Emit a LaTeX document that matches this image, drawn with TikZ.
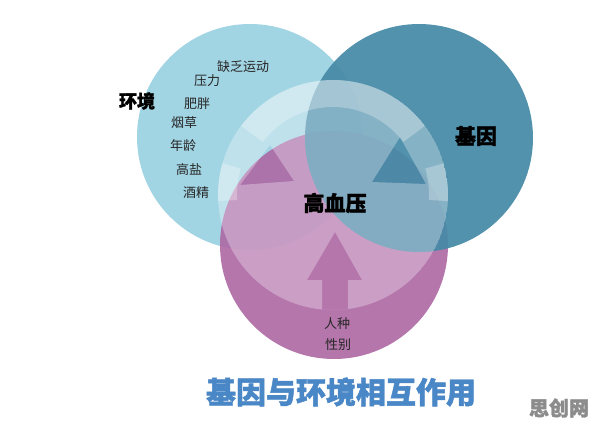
\documentclass[tikz,border=0pt]{standalone}
\usepackage{fontspec}
\newfontfamily\cjk{Noto Sans CJK SC}
\newfontfamily\cjkheavy[FakeBold=1.5]{Noto Sans CJK SC}
\definecolor{envblue}{HTML}{A2D5E4}
\definecolor{genteal}{HTML}{478AA7}
\definecolor{racepink}{HTML}{AE68A4}
\definecolor{titleblue}{HTML}{4A87C6}
\begin{document}
\begin{tikzpicture}[x=1pt,y=1pt,
        factor/.style={font=\cjk\fontsize{13}{15}\selectfont, text=black!85},
        circlename/.style={font=\cjkheavy\bfseries\fontsize{21}{24}\selectfont, text=black},
        ring/.style={white, opacity=.28}]
        \useasboundingbox (0,0) rectangle (596,429);
        \fill[white] (0,0) rectangle (596,429);

        \coordinate (E) at (250,292);
        \coordinate (G) at (419,291);
        \coordinate (R) at (334,184);
        \coordinate (C) at (333,234);

        % the three circles
        \fill[envblue] (E) circle (113);
        \fill[racepink, opacity=.9] (R) circle (114);
        \fill[genteal, opacity=.93] (G) circle (114);

        % light disc with the arrows cut out
        \begin{scope}
            \clip (C) circle (115);
            \fill[white, opacity=.3, even odd rule] (C) circle (115)
                (270,284) -- (240,244) -- (294,248) -- cycle
                (400,292) -- (372,247) -- (426,245) -- cycle
                (335,197) -- (307,149) -- (322,149) -- (322,90) -- (348,90) -- (348,149) -- (362,149) -- cycle;
            \fill[ring] ([shift={(37:115)}]C) arc (37:143:115) -- ([shift={(143:88)}]C) arc (143:37:88) -- cycle;
            \fill[ring] ([shift={(164:115)}]C) arc (164:183:115) -- ([shift={(183:96)}]C) arc (183:164:96) -- cycle;
            \fill[ring] ([shift={(-3:115)}]C) arc (-3:16:115) -- ([shift={(16:96)}]C) arc (16:-3:96) -- cycle;
        \end{scope}

        \node[font=\cjkheavy\bfseries\fontsize{18}{20}\selectfont] (env) at (137,328) {环境};
        \node[factor] (f1) at (243,362) {缺乏运动};
        \node[factor] (f2) at (207,348) {压力};
        \node[factor] (f3) at (197,325) {肥胖};
        \node[factor] (f4) at (184,306) {烟草};
        \node[factor] (f5) at (183,283) {年龄};
        \node[factor] (f6) at (189,259) {高盐};
        \node[factor] (f7) at (196,236) {酒精};

        \node[circlename] (gene) at (476,293) {基因};
        \node[circlename] (htn) at (335,226) {高血压};

        \node[factor] (race) at (337,105) {人种};
        \node[factor] (sex) at (338,84) {性别};

        \node[font=\cjkheavy\bfseries\fontsize{30}{34}\selectfont, text=titleblue] (title) at (341,37) {基因与环境相互作用};
        \node[font=\cjkheavy\bfseries\fontsize{20}{22}\selectfont, text=black!45] (mark) at (559,21) {思创网};
    \end{tikzpicture}
\end{document}
